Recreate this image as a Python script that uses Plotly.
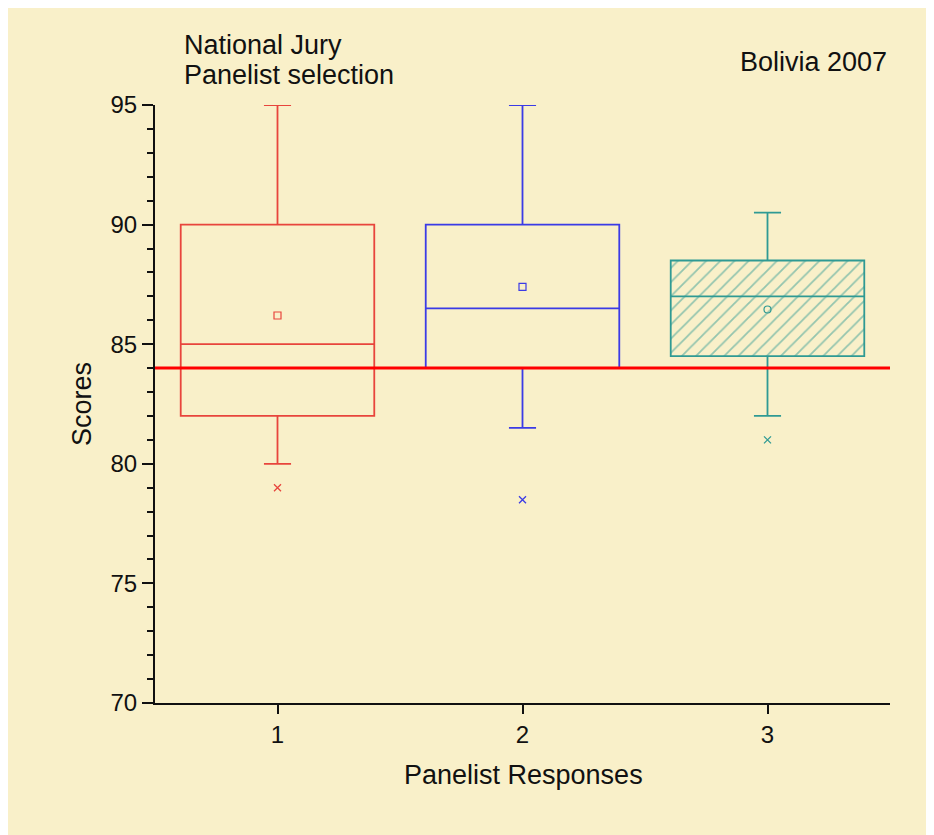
import plotly.graph_objects as go

# ---- data ----
categories = [1, 2, 3]
upper_whisker = [95.0, 95.0, 90.5]
q3_values = [90.0, 90.0, 88.5]
medians = [85.0, 86.5, 87.0]
q1_values = [82.0, 84.0, 84.5]
lower_whisker = [80.0, 81.5, 82.0]
means = [86.2, 87.4, 86.45]
outliers = [79.0, 78.5, 81.0]
reference_score = 84.0
tick_labels = ["1", "2", "3"]
y_ticks = [70, 75, 80, 85, 90, 95]

colors = ["#e8453c", "#3b3be6", "#2f9a94"]
mean_symbols = ["square-open", "square-open", "circle-open"]
box_width = 0.79

BG = "#f9f0c9"
FONT = "Liberation Sans, Arial, sans-serif"

fig = go.Figure()

# hatched fill for third box
i = 2
x0, x1 = categories[i] - box_width / 2, categories[i] + box_width / 2
fig.add_trace(go.Scatter(
    x=[x0, x1, x1, x0, x0],
    y=[q1_values[i], q1_values[i], q3_values[i], q3_values[i], q1_values[i]],
    fill="toself", mode="lines", line=dict(width=0, color=colors[i]),
    fillpattern=dict(shape="/", fgcolor=colors[i], bgcolor="rgba(0,0,0,0)",
                     size=10, solidity=0.18, fillmode="overlay"),
    fillcolor="rgba(0,0,0,0)",
    hoverinfo="skip", showlegend=False))

for i, c in enumerate(categories):
    fig.add_trace(go.Box(
        x=[c], q1=[q1_values[i]], median=[medians[i]], q3=[q3_values[i]],
        lowerfence=[lower_whisker[i]], upperfence=[upper_whisker[i]],
        width=box_width, whiskerwidth=0.14, boxpoints=False,
        line=dict(color=colors[i], width=1.8),
        fillcolor="rgba(0,0,0,0)", showlegend=False))
    fig.add_trace(go.Scatter(
        x=[c], y=[means[i]], mode="markers",
        marker=dict(symbol=mean_symbols[i], size=7, color=colors[i],
                    line=dict(width=1.2, color=colors[i])),
        showlegend=False))
    fig.add_trace(go.Scatter(
        x=[c], y=[outliers[i]], mode="markers",
        marker=dict(symbol="x-thin", size=7, color=colors[i],
                    line=dict(width=1.3, color=colors[i])),
        showlegend=False))

# reference line
fig.add_hline(y=reference_score, line=dict(color="#ff0000", width=3), layer="above")

axis_font = dict(family=FONT, size=24, color="#111111")
title_font = dict(family=FONT, size=27, color="#111111")
fig.update_layout(
    width=942, height=835,
    margin=dict(l=147, r=60, t=97, b=140),
    paper_bgcolor=BG, plot_bgcolor=BG,
    font=dict(family=FONT, color="#111111"),
    xaxis=dict(range=[0.5, 3.5], tickvals=categories, ticktext=tick_labels,
               showgrid=False, zeroline=False, showline=True, linecolor="#111111",
               linewidth=2, ticks="outside", ticklen=9, tickwidth=2,
               tickcolor="#111111", tickfont=axis_font),
    yaxis=dict(range=[70, 95], tickvals=y_ticks, showgrid=False, zeroline=False,
               showline=True, linecolor="#111111", linewidth=2,
               ticks="outside", ticklen=11, tickwidth=2, tickcolor="#111111",
               tickfont=axis_font,
               minor=dict(dtick=1, ticks="outside", ticklen=6, tickwidth=2,
                          tickcolor="#111111", showgrid=False)),
    annotations=[
        dict(text="National Jury", xref="paper", yref="paper", x=0.0367, y=1.1003,
             xanchor="left", yanchor="middle", showarrow=False, font=title_font),
        dict(text="Panelist selection", xref="paper", yref="paper", x=0.0367, y=1.0502,
             xanchor="left", yanchor="middle", showarrow=False, font=title_font),
        dict(text="Bolivia 2007", xref="paper", yref="paper", x=0.9986, y=1.0719,
             xanchor="right", yanchor="middle", showarrow=False, font=title_font),
        dict(text="Scores", xref="paper", yref="paper", x=-0.0993, y=0.5,
             xanchor="center", yanchor="middle", textangle=-90, showarrow=False,
             font=title_font),
        dict(text="Panelist Responses", xref="paper", yref="paper", x=0.5007, y=-0.1204,
             xanchor="center", yanchor="middle", showarrow=False, font=title_font),
    ],
)

fig.write_html("out.html")
